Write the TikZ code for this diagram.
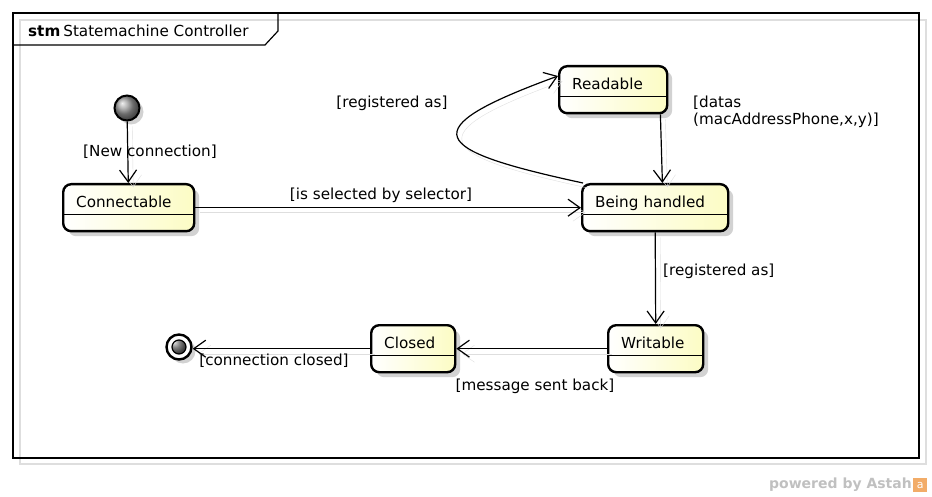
\documentclass[tikz,border=0pt]{standalone}
\usepackage{fontspec}
\setmainfont{DejaVu Sans}
\usetikzlibrary{arrows.meta, shadows}

\definecolor{stateyellow}{RGB}{252,252,196}
\definecolor{shadowgray}{RGB}{210,210,210}
\definecolor{lightline}{RGB}{222,222,222}
\definecolor{astahgray}{RGB}{192,192,192}
\definecolor{astahorange}{RGB}{242,172,104}

\tikzset{
  state/.style={draw, line width=2.4pt, rounded corners=8pt, anchor=north west,
    left color=white, right color=stateyellow,
    drop shadow={shadow xshift=5pt, shadow yshift=-5pt, fill=shadowgray, opacity=1},
    inner xsep=13pt, inner ysep=0pt, text height=23pt, text depth=24pt,
    text width=#1, align=left,
    path picture={\draw[line width=1.2pt]
      ([yshift=17pt]path picture bounding box.south west) --
      ([yshift=17pt]path picture bounding box.south east);}},
  initial/.style={circle, draw, line width=2pt, minimum size=25pt, inner sep=0pt,
    ball color=gray!80,
    drop shadow={shadow xshift=4pt, shadow yshift=-4pt, fill=shadowgray, opacity=1}},
  final/.style={circle, draw, line width=2.4pt, minimum size=25pt, inner sep=0pt,
    fill=white,
    drop shadow={shadow xshift=4pt, shadow yshift=-4pt, fill=shadowgray, opacity=1},
    path picture={\shade[ball color=black!65] (path picture bounding box.center) circle (7pt);
      \draw[line width=1.2pt] (path picture bounding box.center) circle (7pt);}},
  trans/.style={line width=1.2pt,
    -{Straight Barb[length=12pt, width=17pt, line width=1.2pt]},
    preaction={draw=lightline, transform canvas={xshift=5pt, yshift=-5pt}}},
  lbl/.style={inner sep=0pt}
}

\begin{document}
\begin{tikzpicture}[x=1pt, y=1pt, font=\fontsize{15.2}{17}\selectfont]
\useasboundingbox (0,0) rectangle (932,-497);
% frame
\draw[lightline, line width=1.2pt] (20,-20) rectangle (926,-464);
\draw[line width=1.2pt] (13,-13) rectangle (919,-458);
\draw[line width=1.2pt] (13,-45) -- (265,-45) -- (278,-31) -- (278,-13);
\node[lbl, anchor=west] (title) at (28,-31) {\textbf{stm}\hspace{3pt}Statemachine Controller};

% states
\node[initial] (start) at (127,-108) {};
\node[state=105pt] (conn) at (62,-183) {Connectable};
\node[state=82pt] (rd) at (558,-65) {Readable};
\node[state=120pt] (bh) at (581,-183) {Being handled};
\node[state=69pt] (wr) at (607,-324) {Writable};
\node[state=58pt] (cl) at (370,-324) {Closed};
\node[final] (fin) at (179,-347) {};

% transitions
\draw[trans] (start) -- (conn);
\draw[trans] (conn) -- (bh);
\draw[trans] ([xshift=2pt]bh.north west) .. controls (430,-150) and (410,-130) .. ([yshift=-11pt]rd.north west);
\draw[trans] ([xshift=-8pt]rd.south east) -- ([xshift=-67pt]bh.north east);
\draw[trans] (bh.south) -- (wr.north);
\draw[trans] (wr.west) -- (cl.east);
\draw[trans] (cl.west) -- (cl.west -| fin.east);

% guards
\node[lbl] (lNew) at (150,-152) {[New connection]};
\node[lbl] (lSel) at (381,-195) {[is selected by selector]};
\node[lbl] (lReg) at (392,-103) {[registered as]};
\node[lbl, anchor=west, align=left] (lDatas) at (693,-111.5) {[datas\\(macAddressPhone,x,y)]};
\node[lbl, anchor=west] (lRegW) at (663,-271) {[registered as]};
\node[lbl] (lMsg) at (535,-386) {[message sent back]};
\node[lbl] (lClosed) at (274,-361) {[connection closed]};

% watermark
\node[lbl, anchor=east, text=astahgray, font=\fontsize{14}{16}\selectfont\bfseries] (powered) at (912,-485) {powered by Astah};
\node[fill=astahorange, minimum size=14pt, inner sep=0pt, anchor=west, text=white, font=\fontsize{11}{11}\selectfont] (logo) at (913,-485) {a};
\end{tikzpicture}
\end{document}
